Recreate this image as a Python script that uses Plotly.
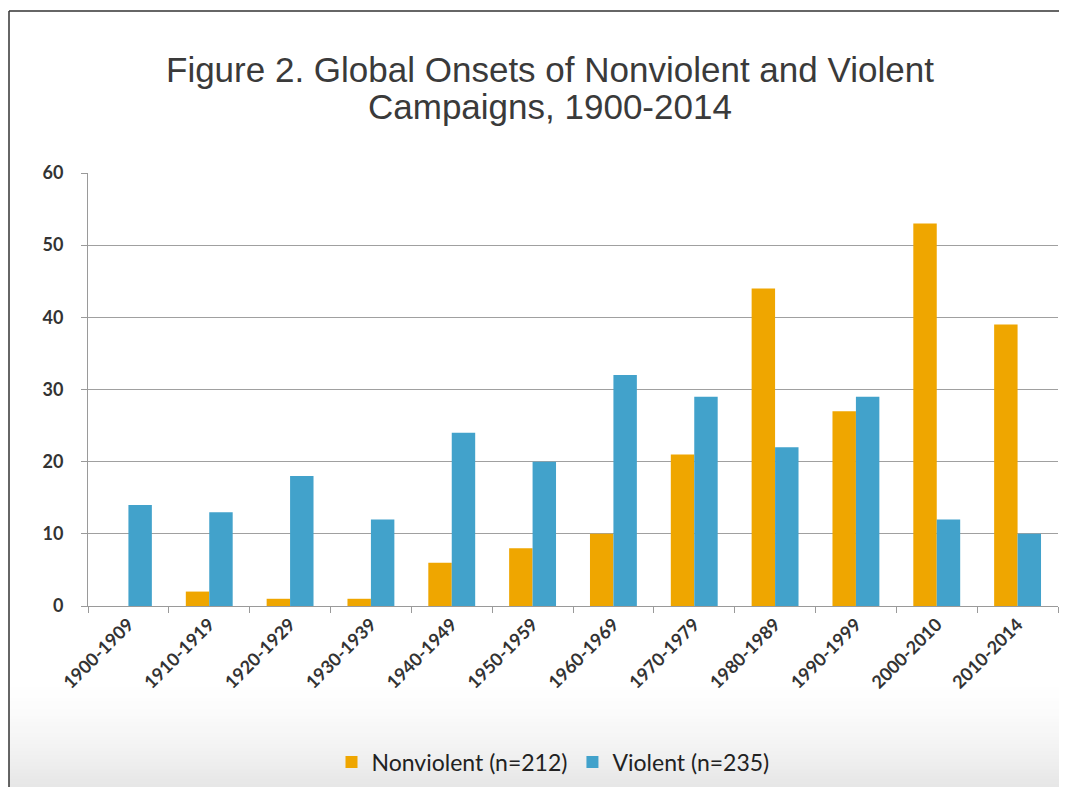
import plotly.graph_objects as go

categories = ["1900-1909", "1910-1919", "1920-1929", "1930-1939", "1940-1949", "1950-1959",
              "1960-1969", "1970-1979", "1980-1989", "1990-1999", "2000-2010", "2010-2014"]
nonviolent = [0, 2, 1, 1, 6, 8, 10, 21, 44, 27, 53, 39]
violent = [14, 13, 18, 12, 24, 20, 32, 29, 22, 29, 12, 10]
y_ticks = [0, 10, 20, 30, 40, 50, 60]

OFF = 8  # page body margin
W, H = 1067 - OFF, 787 - OFF
L, R, T, B = 88 - OFF, 1058 - OFF, 173 - OFF, 606 - OFF

fig = go.Figure()
fig.add_trace(go.Bar(x=categories, y=nonviolent, name="Nonviolent (n=212)",
                     marker=dict(color="#EFA600", line=dict(width=0))))
fig.add_trace(go.Bar(x=categories, y=violent, name="Violent (n=235)",
                     marker=dict(color="#42A2CB", line=dict(width=0))))

px = lambda x: (x - OFF - L) / (R - L)
py = lambda y: (B - (y - OFF)) / (B - T)

shapes = []
# bottom gray gradient band
nb = 30
ystart = 680
for i in range(nb):
    ya = ystart + (787 - ystart) * i / nb
    yb = ystart + (787 - ystart) * (i + 1) / nb
    v = int(round(255 - 25 * ((i + 0.5) / nb) ** 1.5))
    shapes.append(dict(type="rect", xref="paper", yref="paper", layer="below",
                       x0=px(9), x1=px(1067), y0=py(yb + 1), y1=py(ya),
                       fillcolor=f"rgb({v},{v},{v})", line=dict(width=0)))
# frame lines (left and top)
shapes.append(dict(type="line", xref="paper", yref="paper", x0=px(9), x1=px(1067),
                   y0=py(11), y1=py(11), line=dict(color="#333333", width=1.5)))
shapes.append(dict(type="line", xref="paper", yref="paper", x0=px(9), x1=px(9),
                   y0=py(11), y1=py(790), line=dict(color="#333333", width=1.5)))

title_font = dict(family="Liberation Sans, Arial", size=35, color="#3a3a3a")
annotations = [
    dict(text="Figure 2. Global Onsets of Nonviolent and Violent", xref="paper", yref="paper",
         x=px(550), y=py(70), xanchor="center", yanchor="middle", showarrow=False, font=title_font),
    dict(text="Campaigns, 1900-2014", xref="paper", yref="paper",
         x=px(550), y=py(107), xanchor="center", yanchor="middle", showarrow=False, font=title_font),
]

tick_font = dict(family="Lato, Open Sans", size=18, color="#333333", weight="bold")
fig.update_layout(
    width=W, height=H,
    margin=dict(l=L, r=W - R, t=T, b=H - B),
    paper_bgcolor="white", plot_bgcolor="white",
    bargap=0.42, bargroupgap=0,
    barmode="group",
    xaxis=dict(showgrid=False, showline=True, linecolor="#9a9a9a", linewidth=1,
               ticks="outside", tickson="boundaries", ticklen=6, tickcolor="#9a9a9a",
               tickangle=-45, tickfont=tick_font),
    yaxis=dict(range=[0, 60], tickvals=y_ticks, showgrid=True, gridcolor="#a0a0a0", gridwidth=1,
               showline=True, linecolor="#9a9a9a", linewidth=1, zeroline=False,
               ticks="outside", ticklen=6, tickcolor="#9a9a9a", ticklabelstandoff=14,
               tickfont=dict(family="Lato, Open Sans", size=18, color="#333333", weight="bold")),
    legend=dict(orientation="h", x=(553 - OFF) / W, xanchor="center", xref="container",
                y=1 - (762 - OFF) / H, yref="container", yanchor="middle",
                font=dict(family="Lato, Open Sans", size=23, color="#222222"),
                bgcolor="rgba(0,0,0,0)", itemwidth=30, traceorder="normal"),
    shapes=shapes,
    annotations=annotations,
    showlegend=True,
)
fig.write_html("out.html")
